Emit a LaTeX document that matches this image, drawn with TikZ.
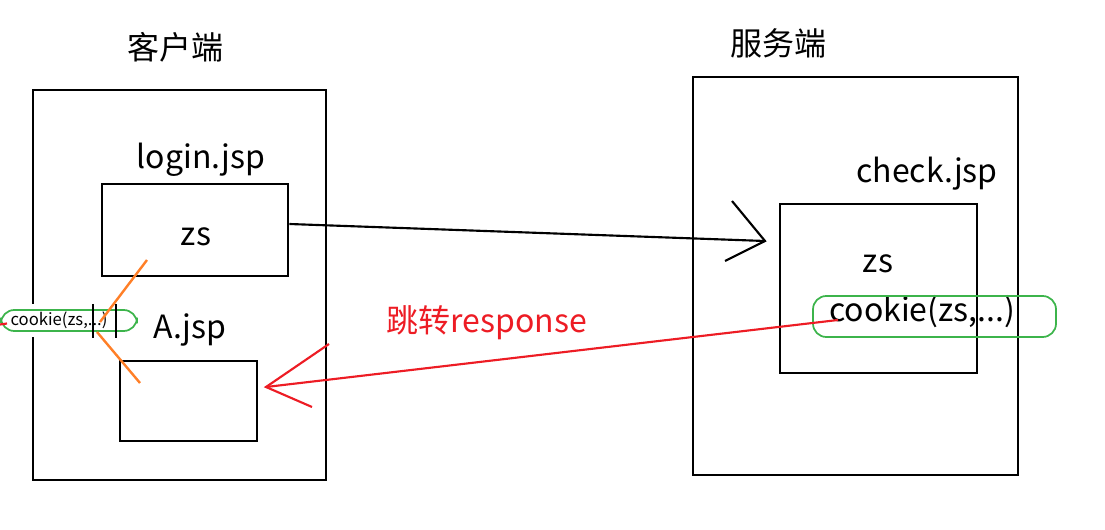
\documentclass[tikz,border=0pt]{standalone}
\usepackage{fontspec}
\setmainfont{Noto Sans CJK SC}
\definecolor{gr}{RGB}{60,180,75}
\definecolor{org}{RGB}{255,127,39}
\definecolor{rd}{RGB}{237,28,36}
\begin{document}
\begin{tikzpicture}[x=0.75pt,y=-0.75pt,
  box/.style={draw=black,line width=2.2pt},
  lbl/.style={inner sep=0pt,font=\fontsize{24}{26}\selectfont},
  green/.style={draw=gr,line width=1.3pt,rounded corners=10pt},
  blk/.style={draw=black,line width=1.6pt},
  redl/.style={draw=rd,line width=1.6pt},
  orng/.style={draw=org,line width=1.8pt}]
\useasboundingbox (0,0) rectangle (1105,530);
% boxes
\draw[box] (33,90) rectangle (326,480);
\draw[box] (693,77) rectangle (1018,475);
\node[lbl] (client) at (175,47) {客户端};
\node[lbl] (server) at (778,43) {服务端};
\node[lbl] (logint) at (201,160) {login.jsp};
\node[box,minimum width=186*0.75pt,minimum height=92*0.75pt,inner sep=0pt] (login) at (195,230) {};
\node[lbl] (zs1) at (196,237) {zs};
\node[lbl] (at) at (190,330) {A.jsp};
\node[box,minimum width=137*0.75pt,minimum height=80*0.75pt,inner sep=0pt] (A) at (188.5,401) {};
\node[lbl] (checkt) at (927,174) {check.jsp};
\node[box,minimum width=197*0.75pt,minimum height=169*0.75pt,inner sep=0pt] (check) at (878.5,288.5) {};
\node[lbl] (zs2) at (878,264) {zs};
\node[lbl] (ck) at (922,312) {cookie(zs,...)};
\draw[green] (813,296) rectangle (1056,337);
% left small cookie
\fill[white] (0,304) rectangle (137,337);
\draw[green] (1,310) rectangle (137,331);
\node[inner sep=0pt,font=\fontsize{12.5}{13}\selectfont] (ck2) at (59,320) {cookie(zs,...)};
\draw[blk] (93,304) -- (93,338);
\draw[blk] (116,304) -- (116,338);
\draw[redl] (0,324.5) -- (7,323.5);
% orange
\coordinate (o1) at (147,260);
\coordinate (o2) at (100,322);
\coordinate (o3) at (97,332);
\coordinate (o4) at (140,383);
\draw[orng] (o1) -- (o2);
\draw[orng] (o3) -- (o4);
% black arrow
\coordinate (bt) at (765,241);
\draw[blk] (login.east |- 0,224) -- (bt);
\draw[blk] (732,201) -- (bt) -- (725,261);
% red arrow
\coordinate (rs) at (838,320);
\coordinate (rt) at (266,387);
\draw[redl] (rs) -- (rt);
\draw[redl] (329,344) -- (rt) -- (312,407);
\node[lbl,text=rd] (resp) at (487,323) {跳转response};
\end{tikzpicture}
\end{document}
